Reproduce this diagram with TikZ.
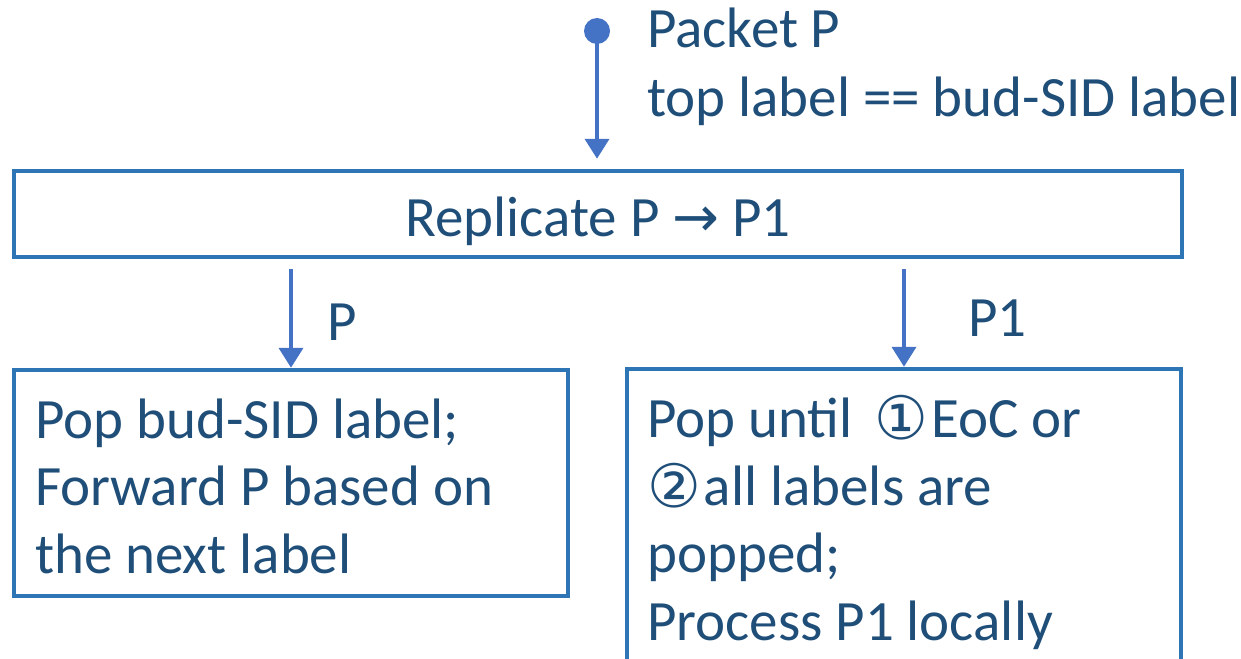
\documentclass[tikz,border=0pt]{standalone}
\usepackage{fontspec}
\setmainfont{Carlito}
\newfontfamily\symfont{DejaVu Sans}
\usetikzlibrary{arrows.meta}
\definecolor{txtblue}{HTML}{1F4E79}
\definecolor{boxblue}{HTML}{2E75B6}
\definecolor{arrblue}{HTML}{4472C4}
\newcommand{\cnum}[1]{{\symfont\fontsize{60}{60}\selectfont\raisebox{-2pt}{#1}}\hspace{3pt}}
\begin{document}
\begin{tikzpicture}[x=1pt,y=-1pt,
  box/.style={draw=boxblue,line width=4.5pt,rectangle,inner sep=0pt},
  txt/.style={text=txtblue,font=\fontsize{57}{67.5}\selectfont,inner sep=0pt,align=left},
  flow/.style={draw=arrblue,line width=4pt,-{Triangle[width=24pt,length=20pt]}}]
\useasboundingbox (0,0) rectangle (1241,658);
% top input
\node[circle,fill=arrblue,inner sep=0pt,minimum size=26pt] (dot) at (597,31) {};
\node[txt,anchor=base west] (pk) at (647,117) {Packet P\\[1.5pt]top label == bud-SID label};
% replicate box
\node[box,minimum width=1168pt,minimum height=86pt] (rep) at (598,214) {};
\node[txt,anchor=base] (reptxt) at (598,236) {Replicate P {\symfont\fontsize{56}{56}\selectfont →} P1};
% left box
\node[box,minimum width=554pt,minimum height=226pt] (lbox) at (291,483) {};
\node[txt,anchor=base west] (ltxt) at (35,573) {Pop bud-SID label;\\Forward P based on\\the next label};
% right box (cut by the page edge)
\node[box,minimum width=554pt,minimum height=320pt] (rbox) at (904,529) {};
\node[txt,anchor=base west] (rtxt) at (647,640) {Pop until \,\cnum{①}EoC or\\\cnum{②}all labels are\\popped;\\Process P1 locally};
% connectors
\draw[flow,shorten >=10pt] (dot.center) -- (dot.center |- rep.north);
\draw[flow,shorten <=10pt] (rep.south -| lbox.north) -- (lbox.north);
\draw[flow,shorten <=10pt] (rep.south -| rbox.north) -- (rbox.north);
\node[txt,anchor=base west] (lp) at (327,340) {P};
\node[txt,anchor=base west] (rp) at (968,336) {P1};
\end{tikzpicture}
\end{document}
